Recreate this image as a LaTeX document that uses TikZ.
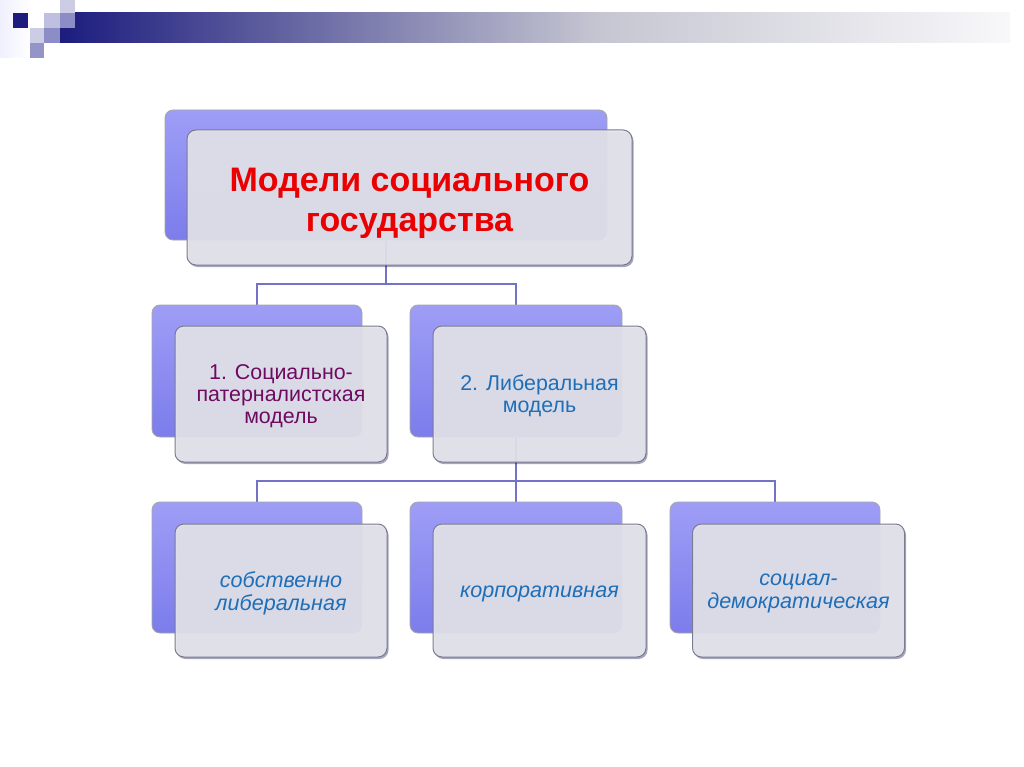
\documentclass[tikz,border=0pt]{standalone}
\usepackage{fontspec}
\setmainfont{Liberation Sans}
\usetikzlibrary{shadows,backgrounds}
\definecolor{navy}{HTML}{1C1C7E}
\definecolor{barmid}{HTML}{C6C6D2}
\definecolor{barend}{HTML}{F8F8FA}
\definecolor{backtop}{HTML}{9E9EF6}
\definecolor{backmid}{HTML}{8484F0}
\definecolor{backbot}{HTML}{7C7CEC}
\definecolor{frontfill}{HTML}{E6E6EC}
\definecolor{frontdraw}{HTML}{7A7A90}
\definecolor{linkcol}{HTML}{7272C8}
\definecolor{titlered}{HTML}{EA0000}
\definecolor{purpletext}{HTML}{6E0A60}
\definecolor{bluetext}{HTML}{1F6FB8}
\tikzset{
  backbox/.style={rectangle, rounded corners=8pt, draw=black!35, line width=0.8pt,
    top color=backtop, middle color=backmid, bottom color=backbot, inner sep=0pt},
  frontbox/.style={rectangle, rounded corners=9pt, draw=frontdraw, line width=1pt,
    fill=frontfill, fill opacity=0.92, text opacity=1, inner sep=0pt, align=center,
    drop shadow={shadow xshift=1.5pt, shadow yshift=-2pt, opacity=0.35, fill=black!70!blue}},
  link/.style={draw=linkcol, line width=2.6pt},
  titletext/.style={font=\bfseries\fontsize{34}{40}\selectfont, text=titlered},
  midtext/.style={font=\fontsize{21.4}{22}\selectfont},
  lowtext/.style={font=\itshape\fontsize{21.6}{23}\selectfont, text=bluetext},
}
\begin{document}
\begin{tikzpicture}[x=1pt,y=-1pt]
\useasboundingbox (0,0) rectangle (1024,767);
\begin{scope}[on background layer]
\fill[white] (0,0) rectangle (1024,767);
\end{scope}
% slide decoration
\shade[left color=black!4!blue!6, right color=white] (0,0) rectangle (30,58);
\shade[left color=navy, right color=barmid] (60,13) rectangle (600,43);
\shade[left color=barmid, right color=barend] (600,13) rectangle (1010,43);
\fill[navy] (13,13) rectangle (28,28);
\fill[blue!50!black!25!white] (44,13) rectangle (60,28);
\fill[blue!50!black!20!white] (60,0) rectangle (75,13);
\fill[blue!50!black!45!white] (60,13) rectangle (75,28);
\fill[blue!50!black!20!white] (30,28) rectangle (44,43);
\fill[blue!50!black!45!white] (44,28) rectangle (60,43);
\fill[blue!50!black!42!white] (30,43) rectangle (44,58);
% top
\node[backbox, minimum width=442pt, minimum height=130pt] (tb) at (386,175) {};
\node[frontbox, minimum width=445pt, minimum height=135pt] (tf) at (409.5,197.5) {};
\node[titletext, align=center] (tt) at (409.5,203) {Модели социального\\государства};
% level 2
\node[backbox, minimum width=210pt, minimum height=132pt] (ab) at (257,371) {};
\node[frontbox, minimum width=212pt, minimum height=136pt] (af) at (281,394) {};
\node[midtext, text=purpletext, align=center] (at) at (281,396) {1. Социально-\\патерналистская\\модель};
\node[backbox, minimum width=212pt, minimum height=132pt] (bb) at (516,371) {};
\node[frontbox, minimum width=213pt, minimum height=136pt] (bf) at (539.5,394) {};
\node[midtext, text=bluetext, align=center] (bt) at (539.5,396) {2. Либеральная\\модель};
% level 3
\node[backbox, minimum width=210pt, minimum height=131pt] (cb) at (257,567.5) {};
\node[frontbox, minimum width=212pt, minimum height=133pt] (cf) at (281,590.5) {};
\node[lowtext, align=center] (ct) at (281,593) {собственно\\либеральная};
\node[backbox, minimum width=212pt, minimum height=131pt] (db) at (516,567.5) {};
\node[frontbox, minimum width=213pt, minimum height=133pt] (df) at (539.5,590.5) {};
\node[lowtext, align=center] (dt) at (539.5,594) {корпоративная};
\node[backbox, minimum width=210pt, minimum height=131pt] (eb) at (775,567.5) {};
\node[frontbox, minimum width=212pt, minimum height=133pt] (ef) at (798.5,590.5) {};
\node[lowtext, align=center] (et) at (798.5,593) {социал-\\демократическая};
% connectors
\coordinate (h1) at (0,284);
\coordinate (h2) at (0,481);
\begin{scope}[on background layer]
\draw[link] (tb.south) -- (tb.south |- h1) -| (ab.north);
\draw[link] (tb.south |- h1) -| (bb.north);
\draw[link] (bb.south) -- (bb.south |- h2) -| (cb.north);
\draw[link] (bb.south |- h2) -| (db.north);
\draw[link] (bb.south |- h2) -| (eb.north);
\end{scope}
\end{tikzpicture}
\end{document}
